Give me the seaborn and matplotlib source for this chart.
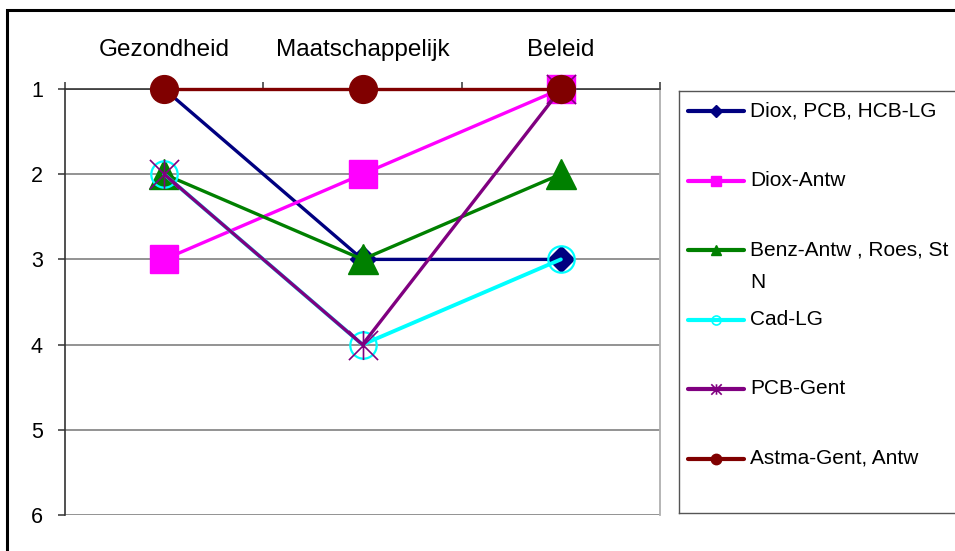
import numpy as np
import matplotlib
matplotlib.use("Agg")
import matplotlib.pyplot as plt
from matplotlib.path import Path
from matplotlib.patches import Rectangle
from matplotlib.ticker import FixedLocator
import seaborn as sns

# Data (rank 1 = top)
categories = ["Gezondheid", "Maatschappelijk", "Beleid"]
series_names = ["Diox, PCB, HCB-LG", "Diox-Antw", "Benz-Antw , Roes, St\nN",
                "Cad-LG", "PCB-Gent", "Astma-Gent, Antw"]
diox_pcb_hcb_lg = [1, 3, 3]
diox_antw = [3, 2, 1]
benz_antw = [2, 3, 2]
cad_lg = [2, 4, 3]
pcb_gent = [2, 4, 1]
astma_gent = [1, 1, 1]
y_ticks = [1, 2, 3, 4, 5, 6]

series_values = [diox_pcb_hcb_lg, diox_antw, benz_antw, cad_lg, pcb_gent, astma_gent]

# Excel-like star marker (x with a vertical bar)
star = Path([(-1, -1), (1, 1), (-1, 1), (1, -1), (0, -1), (0, 1)],
            [Path.MOVETO, Path.LINETO] * 3)

styles = [
    dict(color="#000080", marker="D", ms=13, lms=6.5, mfc="#000080", mew=1, lw=2.4),
    dict(color="#FF00FF", marker="s", ms=20, lms=7.5, mfc="#FF00FF", mew=1, lw=2.4),
    dict(color="#008000", marker="^", ms=21, lms=7.5, mfc="#008000", mew=1, lw=2.4),
    dict(color="#00FFFF", marker="o", ms=19, lms=6.5, mfc="none", mew=1.6, lw=2.8),
    dict(color="#800080", marker=star, ms=21, lms=7.5, mfc="none", mew=1.2, lw=2.4),
    dict(color="#800000", marker="o", ms=20, lms=7.5, mfc="#800000", mew=1, lw=2.4),
]

sns.set_style("white")
plt.rcParams["font.family"] = ["Liberation Sans", "DejaVu Sans"]

fig = plt.figure(figsize=(9.55, 5.51), dpi=100)
ax = fig.add_axes([65 / 955, 36 / 551, 595 / 955, 426 / 551])

for vals, st in zip(series_values, styles):
    sns.lineplot(x=categories, y=vals, ax=ax, sort=False, legend=False,
                 color=st["color"], lw=st["lw"], marker=st["marker"],
                 markersize=st["ms"], markerfacecolor=st["mfc"],
                 markeredgecolor=st["color"], markeredgewidth=st["mew"],
                 zorder=3, clip_on=False)

ax.set_xlim(-0.5, 2.5)
ax.set_ylim(6, 1)
ax.set_yticks(y_ticks)
ax.set_xlabel("")
ax.set_ylabel("")

# category labels on top, tick marks between categories
ax.xaxis.set_minor_locator(FixedLocator([-0.5, 0.5, 1.5, 2.5]))
ax.tick_params(axis="x", which="both", top=True, bottom=False,
               labeltop=True, labelbottom=False)
ax.tick_params(axis="x", which="major", length=0, pad=20, labelsize=17.5, labelcolor="black")
ax.tick_params(axis="x", which="minor", length=5, width=1.1, color="#333333", direction="out")
ax.tick_params(axis="y", which="major", left=True, length=5, width=1.1,
               color="#333333", direction="out", pad=11, labelsize=15.5, labelcolor="black")

ax.yaxis.grid(True, color="#808080", lw=1.2)
ax.xaxis.grid(False)
ax.spines["bottom"].set_visible(False)
ax.spines["right"].set_color("#b0b0b0")
ax.spines["right"].set_linewidth(1.3)
for s in ["top", "left"]:
    ax.spines[s].set_color("#333333")
    ax.spines[s].set_linewidth(1.2)

# legend box drawn in its own axes (pixel units)
lax = fig.add_axes([679 / 955, 38 / 551, 330 / 955, 422 / 551])
lax.set_xlim(0, 330)
lax.set_ylim(422, 0)
lax.set_xticks([])
lax.set_yticks([])
lax.patch.set_alpha(0)
for s in ["left", "top", "bottom"]:
    lax.spines[s].set_color("#555555")
    lax.spines[s].set_linewidth(1.0)
lax.spines["right"].set_visible(False)

row_y = 20
for name, st in zip(series_names, styles):
    lax.plot([9, 65], [row_y, row_y], color=st["color"], lw=3)
    lax.plot([37], [row_y], color=st["color"], marker=st["marker"], ms=st["lms"],
             mfc=st["mfc"], mec=st["color"], mew=1.2 if st["mfc"] == "none" else 1)
    for k, part in enumerate(name.split("\n")):
        lax.text(71, row_y + k * 33, part, fontsize=15, va="center", ha="left", color="black")
    row_y += 69.5

# outer chart border (only top/left fall inside the picture)
fig.add_artist(Rectangle((7 / 955, -0.1), 2, (551 - 10) / 551 + 0.1,
                         transform=fig.transFigure, fill=False,
                         edgecolor="black", lw=2.2))

fig.savefig("out.png", dpi=100)
